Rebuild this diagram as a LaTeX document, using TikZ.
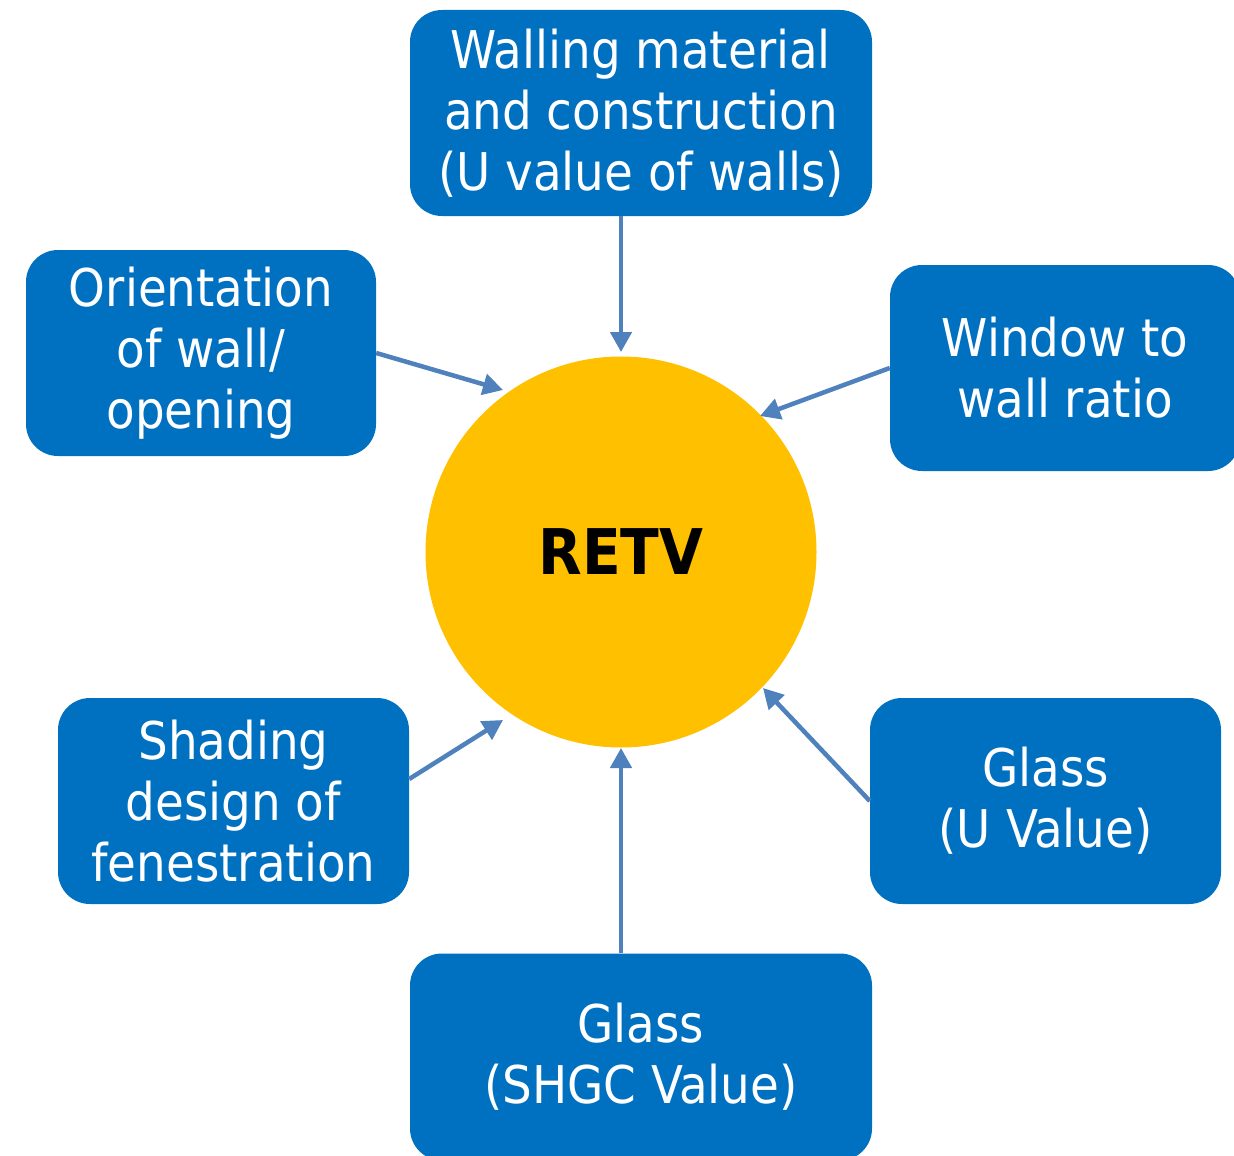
\documentclass[tikz,border=0pt]{standalone}
\usepackage{fontspec}
\setmainfont{DejaVu Sans Condensed}
\usetikzlibrary{arrows.meta,calc}
\definecolor{boxblue}{HTML}{0070C0}
\definecolor{retvgold}{HTML}{FFC000}
\definecolor{arrowblue}{HTML}{4F81BD}
\begin{document}
\begin{tikzpicture}[x=1pt,y=-1pt,
  box/.style={fill=boxblue, rounded corners=32pt, text=white, align=center,
    inner sep=0pt, minimum height=206pt,
    font=\fontsize{52}{61}\selectfont},
  arr/.style={draw=arrowblue, line width=4.5pt, -{Triangle[length=20pt,width=21pt]}}]
\useasboundingbox (0,0) rectangle (1234,1156);
\fill[white] (0,0) rectangle (1234,1156);
\node[circle, fill=retvgold, minimum size=391pt, inner sep=0pt,
  font=\fontsize{63}{70}\selectfont\bfseries] (retv) at (621,552) {RETV};
\node[box, minimum width=462pt] (wall) at (641,113)
  {Walling material\\and construction\\(U value of walls)};
\node[box, minimum width=350pt] (ori) at (201,353)
  {Orientation\\of wall/\\opening};
\node[box, minimum width=350pt] (win) at (1065,368)
  {Window to\\wall ratio};
\node[box, minimum width=351pt] (shd) at (233.5,801)
  {Shading\\design of\\fenestration};
\node[box, minimum width=351pt] (glu) at (1045.5,801)
  {Glass\\(U Value)};
\node[box, minimum width=462pt, minimum height=207pt] (shgc) at (641,1057)
  {Glass\\(SHGC Value)};
\coordinate (tA) at (621,352);
\coordinate (tO) at (503,390);
\coordinate (tW) at (760,416);
\coordinate (tS) at (503,720);
\coordinate (tG) at (763,688);
\coordinate (tB) at (621,748);
\draw[arr] (wall.south -| retv.center) -- (tA);
\draw[arr] (ori.east) -- (tO);
\draw[arr] (win.west) -- (tW);
\draw[arr] ($(shd.east)+(0,-22)$) -- (tS);
\draw[arr] (glu.west) -- (tG);
\draw[arr] (shgc.north -| retv.center) -- (tB);
\end{tikzpicture}
\end{document}
